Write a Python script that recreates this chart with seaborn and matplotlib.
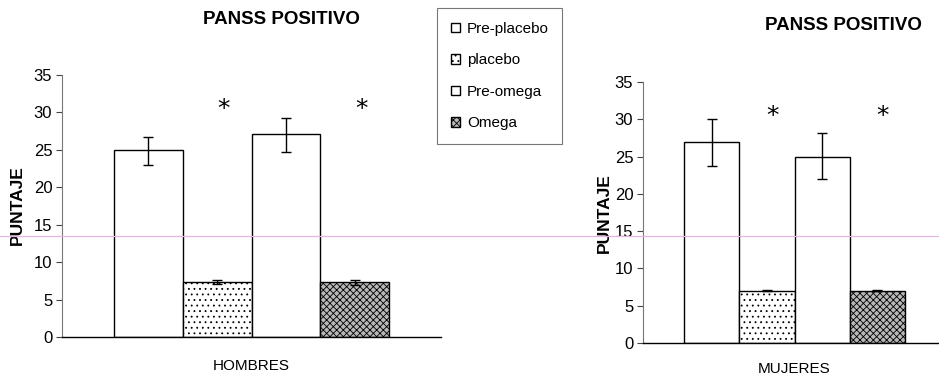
import matplotlib
matplotlib.use("Agg")
import matplotlib.pyplot as plt
from matplotlib.patches import Patch
from matplotlib.lines import Line2D
import numpy as np
import pandas as pd
import seaborn as sns

# Group means and error-bar limits for each condition
conditions = ["Pre-placebo", "placebo", "Pre-omega", "Omega"]
groups = ["HOMBRES", "MUJERES"]

hombres_mean = [25.0, 7.3, 27.1, 7.3]
hombres_low = [23.0, 7.1, 24.7, 7.0]
hombres_high = [26.7, 7.6, 29.2, 7.6]

mujeres_mean = [26.9, 7.0, 25.0, 7.0]
mujeres_low = [23.8, 6.95, 22.0, 6.95]
mujeres_high = [30.1, 7.1, 28.1, 7.05]

# conditions flagged as significant, and the height of the marker
significant = ["placebo", "Omega"]
star_level = 30.4

sns.set_theme(style="white")
plt.rcParams["font.family"] = ["Liberation Sans", "DejaVu Sans"]
plt.rcParams["hatch.linewidth"] = 0.6
for key in ("text.color", "axes.labelcolor", "xtick.color", "ytick.color"):
    plt.rcParams[key] = "black"

fills = {"Pre-placebo": ("white", None),
         "placebo": ("white", "..."),
         "Pre-omega": ("white", None),
         "Omega": ("#b8b8b8", "xxxxx")}

fig = plt.figure(figsize=(9.39, 3.81), dpi=100)
ax_h = fig.add_axes([62 / 939, 1 - 337 / 381, 379 / 939, 262 / 381])
ax_m = fig.add_axes([643 / 939, 1 - 343 / 381, 303 / 939, 261 / 381])

panels = [
    (ax_h, "HOMBRES", hombres_mean, hombres_low, hombres_high, (-0.097, 0.504), 16),
    (ax_m, "MUJERES", mujeres_mean, mujeres_low, mujeres_high, (-0.102, 0.498), 14),
]

for ax, grupo, mean, low, high, lab_xy, xpad in panels:
    df = pd.DataFrame({"grupo": grupo, "condicion": conditions, "puntaje": mean})
    sns.barplot(data=df, x="grupo", y="puntaje", hue="condicion",
                hue_order=conditions, palette=["white"] * 4,
                edgecolor="black", linewidth=1.0, errorbar=None,
                width=0.8, gap=0, legend=False, ax=ax)
    bars = ax.patches[:len(conditions)]
    centers = np.array([b.get_x() + b.get_width() / 2 for b in bars])
    for b, cond in zip(bars, conditions):
        fc, hatch = fills[cond]
        b.set_facecolor(fc)
        if hatch:
            b.set_hatch(hatch)
    m = np.array(mean)
    yerr = [m - np.array(low), np.array(high) - m]
    ax.errorbar(centers, m, yerr=yerr, fmt="none", ecolor="black",
                elinewidth=1.0, capsize=3.5, capthick=1.0)
    for c, cond in zip(centers, conditions):
        if cond in significant:
            ax.text(c + 0.02, star_level, "*", ha="center", va="center",
                    fontsize=18, color="black", family="DejaVu Sans")

    ax.set_xlim(-0.55, 0.55)
    ax.set_ylim(0, 35)
    ax.set_yticks(range(0, 36, 5))
    ax.tick_params(axis="y", length=4, width=0.8, color="#444444",
                   direction="out", labelsize=12, pad=3, left=True)
    ax.tick_params(axis="x", length=0, labelsize=11, pad=xpad)
    ax.set_xlabel("")
    ax.set_ylabel("PUNTAJE", fontsize=12.5, fontweight="bold")
    ax.yaxis.set_label_coords(*lab_xy)
    for side in ("top", "right"):
        ax.spines[side].set_visible(False)
    ax.spines["left"].set_color("#777777")
    ax.spines["left"].set_linewidth(0.8)
    ax.spines["bottom"].set_color("black")
    ax.spines["bottom"].set_linewidth(1.0)
    ax.set_facecolor("white")

fig.text(281 / 939, 1 - 20 / 381, "PANSS POSITIVO", ha="center", va="center",
         fontsize=13.5, fontweight="bold")
fig.text(843 / 939, 1 - 26 / 381, "PANSS POSITIVO", ha="center", va="center",
         fontsize=13.5, fontweight="bold")

handles = [Patch(facecolor=fills[c][0], edgecolor="black", hatch=fills[c][1],
                 linewidth=1.0, label=c) for c in conditions]
leg = fig.legend(handles=handles, loc="upper left",
                 bbox_to_anchor=(437 / 939, 1 - 8 / 381), borderaxespad=0,
                 fontsize=11, handlelength=0.6, handleheight=0.6,
                 handletextpad=0.45, labelspacing=1.15, borderpad=0.9,
                 fancybox=False, frameon=True)
leg.get_frame().set_edgecolor("#555555")
leg.get_frame().set_linewidth(0.8)

# faint horizontal scan line across the page
fig.add_artist(Line2D([0, 1], [1 - 236 / 381] * 2, transform=fig.transFigure,
                      color="#e8b4e4", linewidth=0.9))

fig.savefig("out.png", dpi=100, facecolor="white")
